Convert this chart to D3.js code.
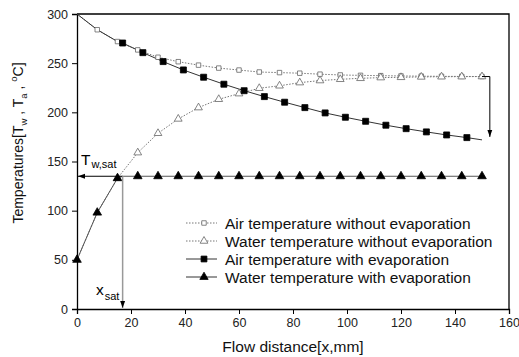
<!DOCTYPE html>
<html>
<head>
<meta charset="utf-8">
<title>Temperatures vs flow distance</title>
<style>
  body { margin: 0; padding: 0; background: #fff; }
  text { font-family: Arial, "Liberation Sans", sans-serif; }
</style>
</head>
<body>
<div id="chart"></div>
<script src="https://d3js.org/d3.v7.min.js"></script>
<script>
// data
var xs = [0, 7.5, 15, 22.5, 30, 37.5, 45, 52.5, 60, 67.5, 75, 82.5, 90, 97.5, 105, 112.5, 120, 127.5, 135, 142.5, 150];
var airNoEvap = [300, 284, 272, 263.5, 256, 251.5, 248, 245, 243, 241, 240.4, 239.8, 238.8, 238, 237.6, 237.3, 237, 236.8, 236.6, 236.5, 236.4];
var waterNoEvap = [50, 98, 133, 159, 178.7, 193.3, 204.8, 213.3, 219, 224.5, 227, 230.2, 232.3, 233.6, 234.6, 235.3, 235.6, 236, 236.2, 236.3, 236.4];

var xSat = 16.9, tSat = 135;
var airEvapX = [0, 7.5, 15, 16.9, 24.4, 31.9, 39.4, 46.9, 54.4, 61.9, 69.4, 76.9, 84.4, 91.9, 99.4, 106.9, 114.4, 121.9, 129.4, 136.9, 144.4, 150];
var airEvap = [300, 284, 272, 270.5, 260.7, 251.6, 243.1, 235.7, 228.6, 222, 216, 210.3, 204.8, 199.4, 195, 190.9, 186.9, 183.4, 180.1, 177, 174.3, 172];
var waterEvapX = [0, 7.5, 15, 16.9, 22.5, 30, 37.5, 45, 52.5, 60, 67.5, 75, 82.5, 90, 97.5, 105, 112.5, 120, 127.5, 135, 142.5, 150];
var waterEvap = [50, 98, 133, 135, 135, 135, 135, 135, 135, 135, 135, 135, 135, 135, 135, 135, 135, 135, 135, 135, 135, 135];

var legendLabels = ["Air temperature without evaporation", "Water temperature without evaporation",
                    "Air temperature with evaporation", "Water temperature with evaporation"];

var W = 519, H = 357;
var svg = d3.select("#chart").append("svg").attr("width", W).attr("height", H);

var x = d3.scaleLinear().domain([0, 160]).range([77, 509]);
var y = d3.scaleLinear().domain([0, 300]).range([309, 14]);

var defs = svg.append("defs");
defs.append("marker").attr("id", "arr").attr("viewBox", "0 0 10 10")
  .attr("refX", 10).attr("refY", 5).attr("markerWidth", 7).attr("markerHeight", 7)
  .attr("orient", "auto-start-reverse").attr("markerUnits", "userSpaceOnUse")
  .append("path").attr("d", "M0,1.5L10,5L0,8.5Z").attr("fill", "#000");

// axes
function minor(axis, vals) {
  return axis.tickValues(vals).tickSize(3).tickFormat("");
}
var gx = svg.append("g").attr("transform", "translate(0,309)");
gx.call(minor(d3.axisBottom(x), d3.range(0, 161, 5)));
gx.call(d3.axisBottom(x).tickValues(d3.range(0, 161, 20)).tickSize(5).tickPadding(4));
var gy = svg.append("g").attr("transform", "translate(77,0)");
gy.call(minor(d3.axisLeft(y), d3.range(0, 301, 10)));
gy.call(d3.axisLeft(y).tickValues(d3.range(0, 301, 50)).tickSize(5).tickPadding(4));
svg.selectAll(".domain").attr("stroke", "#000").attr("stroke-width", 1.3);
svg.selectAll(".tick line").attr("stroke", "#000");
svg.selectAll(".tick text").attr("font-size", 12.5).attr("fill", "#222")
  .style("font-family", "Arial, 'Liberation Sans', sans-serif");

// frame top / right
svg.append("path").attr("d", "M77,14H509V309").attr("fill", "none").attr("stroke", "#000").attr("stroke-width", 1.3);

var line = d3.line().x(function (d) { return x(d[0]); }).y(function (d) { return y(d[1]); });

function pairs(xv, yv) { return xv.map(function (v, i) { return [v, yv[i]]; }); }

// without evaporation (dotted)
svg.append("path").datum(pairs(xs, airNoEvap)).attr("d", line)
  .attr("fill", "none").attr("stroke", "#777").attr("stroke-dasharray", "1.5,1.5");
svg.append("path").datum(pairs(xs, waterNoEvap)).attr("d", line)
  .attr("fill", "none").attr("stroke", "#777").attr("stroke-dasharray", "1.5,1.5");

// with evaporation (solid)
svg.append("path").datum(pairs(airEvapX, airEvap)).attr("d", line)
  .attr("fill", "none").attr("stroke", "#333").attr("stroke-width", 1);
svg.append("path").datum(pairs(waterEvapX, waterEvap)).attr("d", line)
  .attr("fill", "none").attr("stroke", "#555").attr("stroke-width", 1);

var sq = d3.symbol().type(d3.symbolSquare);
var tri = d3.symbol().type(d3.symbolTriangle);

function marks(data, sym, size, fill, stroke) {
  svg.append("g").selectAll("path").data(data).join("path")
    .attr("transform", function (d) { return "translate(" + x(d[0]) + "," + y(d[1]) + ")"; })
    .attr("d", sym.size(size)())
    .attr("fill", fill).attr("stroke", stroke).attr("stroke-width", 0.8);
}

marks(pairs(xs, airNoEvap).slice(1), sq, 20, "#fff", "#666");
marks(pairs(xs, waterNoEvap).slice(2), tri, 26, "#fff", "#666");
marks(pairs(airEvapX, airEvap).filter(function (d) { return d[0] >= xSat && d[0] < 150; }), sq, 36, "#000", "#000");
marks(pairs(waterEvapX, waterEvap).filter(function (d) { return d[0] !== xSat; }), tri, 32, "#000", "#000");

// saturation arrows
svg.append("line").attr("x1", x(xSat)).attr("y1", y(tSat)).attr("x2", x(0) + 1).attr("y2", y(tSat))
  .attr("stroke", "#000").attr("marker-end", "url(#arr)");
svg.append("line").attr("x1", x(xSat)).attr("y1", y(tSat)).attr("x2", x(xSat)).attr("y2", y(0) - 1)
  .attr("stroke", "#999").attr("stroke-width", 1.5).attr("marker-end", "url(#arr)");
svg.append("path").attr("d", "M" + x(150) + "," + y(236.4) + "H" + x(152.9) + "V" + y(175))
  .attr("fill", "none").attr("stroke", "#000").attr("marker-end", "url(#arr)");

// annotation labels
var tw = svg.append("text").attr("x", 81).attr("y", 165).attr("font-size", 15.5);
tw.append("tspan").text("T");
tw.append("tspan").attr("font-size", 11).attr("dy", 3).attr("dx", 1).text("w,sat");
var xl = svg.append("text").attr("x", 96).attr("y", 295).attr("font-size", 15.5);
xl.append("tspan").text("x");
xl.append("tspan").attr("font-size", 11).attr("dy", 5).attr("dx", 1).text("sat");

// legend
var leg = svg.append("g");
var legStyles = [
  { dash: "1.5,1.5", col: "#777", sym: sq, size: 20, fill: "#fff", stroke: "#666" },
  { dash: "1.5,1.5", col: "#777", sym: tri, size: 26, fill: "#fff", stroke: "#666" },
  { dash: null, col: "#333", sym: sq, size: 34, fill: "#000", stroke: "#000" },
  { dash: null, col: "#333", sym: tri, size: 30, fill: "#000", stroke: "#000" }
];
legendLabels.forEach(function (lab, i) {
  var yy = 223 + i * 18, s = legStyles[i];
  leg.append("line").attr("x1", 186).attr("x2", 217).attr("y1", yy).attr("y2", yy)
    .attr("stroke", s.col).attr("stroke-dasharray", s.dash);
  leg.append("path").attr("transform", "translate(204," + yy + ")").attr("d", s.sym.size(s.size)())
    .attr("fill", s.fill).attr("stroke", s.stroke).attr("stroke-width", 0.8);
  leg.append("text").attr("x", 225).attr("y", yy + 5.5).attr("font-size", 15.5).attr("fill", "#111").text(lab);
});

// axis titles
svg.append("text").attr("x", 293).attr("y", 352).attr("text-anchor", "middle")
  .attr("font-size", 15.5).attr("fill", "#111").text("Flow distance[x,mm]");
var yt = svg.append("text").attr("transform", "translate(23,143) rotate(-90)")
  .attr("text-anchor", "middle").attr("font-size", 14).attr("fill", "#111");
yt.append("tspan").text("Temperatures[T");
yt.append("tspan").attr("font-size", 9.5).attr("dy", 4).text("w");
yt.append("tspan").attr("dy", -4).text(" , T");
yt.append("tspan").attr("font-size", 9.5).attr("dy", 4).text("a");
yt.append("tspan").attr("dy", -4).text(" , ");
yt.append("tspan").attr("font-size", 9.5).attr("dy", -6).text("o");
yt.append("tspan").attr("dy", 6).text("C]");
</script>
</body>
</html>
